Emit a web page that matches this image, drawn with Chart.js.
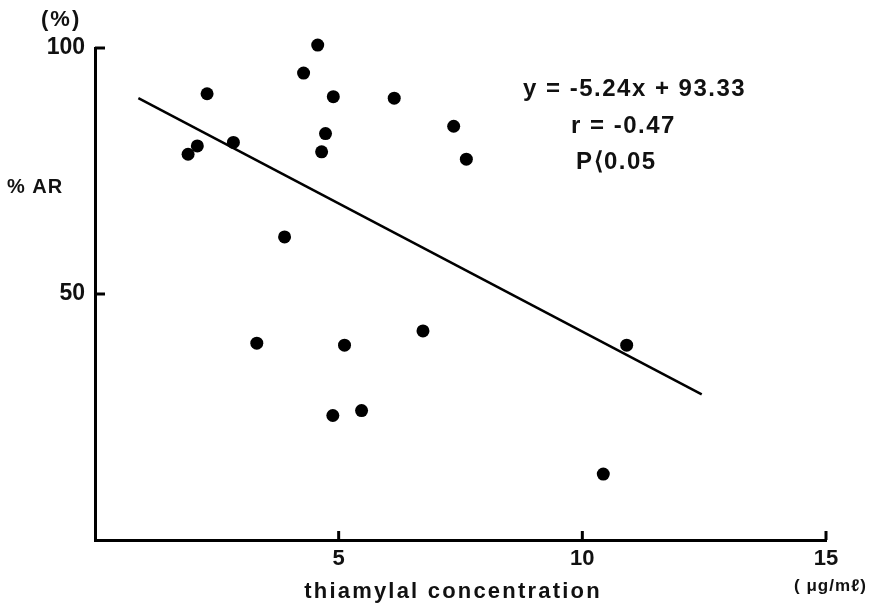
<!DOCTYPE html>
<html><head><meta charset="utf-8">
<script src="https://cdn.jsdelivr.net/npm/chart.js@4.4.1/dist/chart.umd.min.js"></script>
<style>html,body{margin:0;padding:0;background:#fff;}canvas{display:block;}</style>
</head><body>
<canvas id="c" width="869" height="607"></canvas>
<script>
// Data
const concentration = [4.57, 4.28, 2.30, 4.89, 6.14, 7.36, 4.73, 2.10, 2.84, 1.91, 4.65, 7.62, 3.89, 3.32, 5.12, 6.73, 4.88, 5.47, 10.91, 10.43];
const percentAR     = [100.6, 94.9, 90.7, 90.1, 89.8, 84.1, 82.6, 80.1, 80.8, 78.4, 78.9, 77.4, 61.6, 40.0, 39.6, 42.5, 25.3, 26.3, 39.6, 13.4];
const lineX = [0.89, 12.45];
const lineY = [89.8, 29.6];
const xTicks = [5, 10, 15];
const yTicks = [50, 100];
const equationLines = ['y = -5.24x + 93.33', 'r = -0.47', 'P⟨0.05'];

const FONT = '"Liberation Sans", Arial, sans-serif';

const axisPlugin = {
  id: 'axisDeco',
  afterDraw(chart) {
    const ctx = chart.ctx;
    const xs = chart.scales.x, ys = chart.scales.y;
    ctx.save();
    ctx.strokeStyle = '#000';
    ctx.lineWidth = 3;
    ctx.lineCap = 'butt';
    // inward ticks
    xTicks.forEach(v => {
      const px = xs.getPixelForValue(v);
      ctx.beginPath(); ctx.moveTo(px, ys.bottom); ctx.lineTo(px, ys.bottom - 9); ctx.stroke();
    });
    yTicks.forEach(v => {
      const py = ys.getPixelForValue(v);
      ctx.beginPath(); ctx.moveTo(xs.left, py); ctx.lineTo(xs.left + 10, py); ctx.stroke();
    });
    // texts
    ctx.fillStyle = '#111';
    ctx.textBaseline = 'middle';
    ctx.textAlign = 'left';
    ctx.font = 'bold 22px ' + FONT;
    ctx.letterSpacing = '2px';
    ctx.fillText('(%)', 41, 20);
    ctx.font = 'bold 20px ' + FONT;
    ctx.letterSpacing = '1px';
    ctx.fillText('% AR', 7, 187);
    ctx.font = 'bold 22px ' + FONT;
    ctx.letterSpacing = '2.2px';
    ctx.textAlign = 'center';
    ctx.fillText('thiamylal concentration', 453, 592);
    ctx.font = 'bold 17px ' + FONT;
    ctx.letterSpacing = '1px';
    ctx.textAlign = 'left';
    ctx.fillText('( μg/mℓ)', 794, 586);
    // equation
    ctx.font = 'bold 24px ' + FONT;
    ctx.letterSpacing = '1.5px';
    ctx.fillText(equationLines[0], 523, 89);
    ctx.fillText(equationLines[1], 571, 126);
    ctx.fillText(equationLines[2], 576, 162);
    ctx.restore();
  }
};

new Chart(document.getElementById('c'), {
  data: {
    datasets: [
      {
        type: 'scatter',
        data: concentration.map((x, i) => ({x, y: percentAR[i]})),
        backgroundColor: '#000',
        borderColor: '#000',
        pointRadius: 6.5,
        pointHoverRadius: 6.5,
        borderWidth: 0
      },
      {
        type: 'line',
        data: lineX.map((x, i) => ({x, y: lineY[i]})),
        borderColor: '#000',
        borderWidth: 2.5,
        pointRadius: 0,
        fill: false
      }
    ]
  },
  options: {
    responsive: false,
    animation: false,
    events: [],
    clip: false,
    layout: { padding: { top: 48, right: 43, left: 0, bottom: 0 } },
    plugins: { legend: { display: false }, tooltip: { enabled: false } },
    scales: {
      x: {
        type: 'linear', min: 0, max: 15,
        afterBuildTicks: s => { s.ticks = xTicks.map(v => ({value: v})); },
        afterFit: s => { s.height = 67; },
        grid: { display: false, drawTicks: false },
        border: { display: true, color: '#000', width: 3 },
        ticks: { color: '#111', padding: 6, font: { family: FONT, size: 22, weight: 'bold' }, maxRotation: 0 }
      },
      y: {
        type: 'linear', min: 0, max: 100,
        afterBuildTicks: s => { s.ticks = yTicks.map(v => ({value: v})); },
        afterFit: s => { s.width = 95; },
        grid: { display: false, drawTicks: false },
        border: { display: true, color: '#000', width: 3 },
        ticks: { color: '#111', padding: 10, font: { family: FONT, size: 23, weight: 'bold' } }
      }
    }
  },
  plugins: [axisPlugin]
});
</script>
</body></html>
